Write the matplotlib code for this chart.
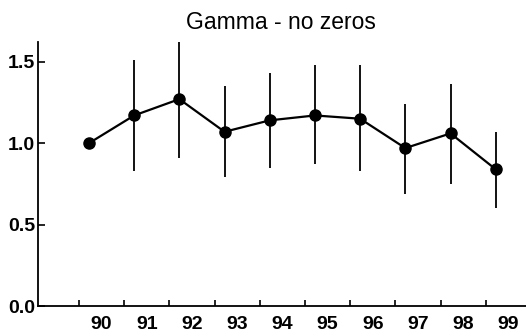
import numpy as np
import matplotlib
matplotlib.use("Agg")
import matplotlib.pyplot as plt

years = ["90", "91", "92", "93", "94", "95", "96", "97", "98", "99"]
gamma = [1.00, 1.17, 1.27, 1.07, 1.14, 1.17, 1.15, 0.97, 1.06, 0.84]
upper = [1.00, 1.51, 1.62, 1.35, 1.43, 1.48, 1.48, 1.24, 1.36, 1.07]
lower = [1.00, 0.83, 0.91, 0.79, 0.85, 0.87, 0.83, 0.69, 0.75, 0.60]

plt.rcParams['font.family'] = ['Liberation Sans', 'DejaVu Sans']

x = np.arange(len(years))
g = np.array(gamma)
yerr = [g - np.array(lower), np.array(upper) - g]

fig = plt.figure(figsize=(5.26, 3.36), dpi=100)
ax = fig.add_axes([0.072, 0.088, 0.928, 0.787])

ax.errorbar(x, g, yerr=yerr, fmt='o-', color='black', ms=8, lw=1.6,
            elinewidth=1.3, capsize=0)

ax.set_xlim(-1.13, 9.67)
ax.set_ylim(0, 1.62)

# labels sit right of each year, small tick marks sit left of it
ax.set_xticks(x + 0.28)
ax.set_xticklabels(years)
ax.set_xticks(x - 0.22, minor=True)
ax.tick_params(axis='x', which='major', length=0, pad=7, labelsize=14)
ax.tick_params(axis='x', which='minor', direction='in', length=4, width=1.2)

ax.set_yticks([0.0, 0.5, 1.0, 1.5])
ax.set_yticklabels(["0.0", "0.5", "1.0", "1.5"])
ax.tick_params(axis='y', direction='in', length=5, width=1.2, pad=2, labelsize=14)

for lab in ax.get_xticklabels() + ax.get_yticklabels():
    lab.set_fontweight('bold')

for side in ['top', 'right']:
    ax.spines[side].set_visible(False)
for side in ['left', 'bottom']:
    ax.spines[side].set_linewidth(1.3)

fig.text(0.534, 0.932, "Gamma - no zeros", ha='center', va='center', fontsize=16.5)

fig.savefig("out.png", dpi=100)
